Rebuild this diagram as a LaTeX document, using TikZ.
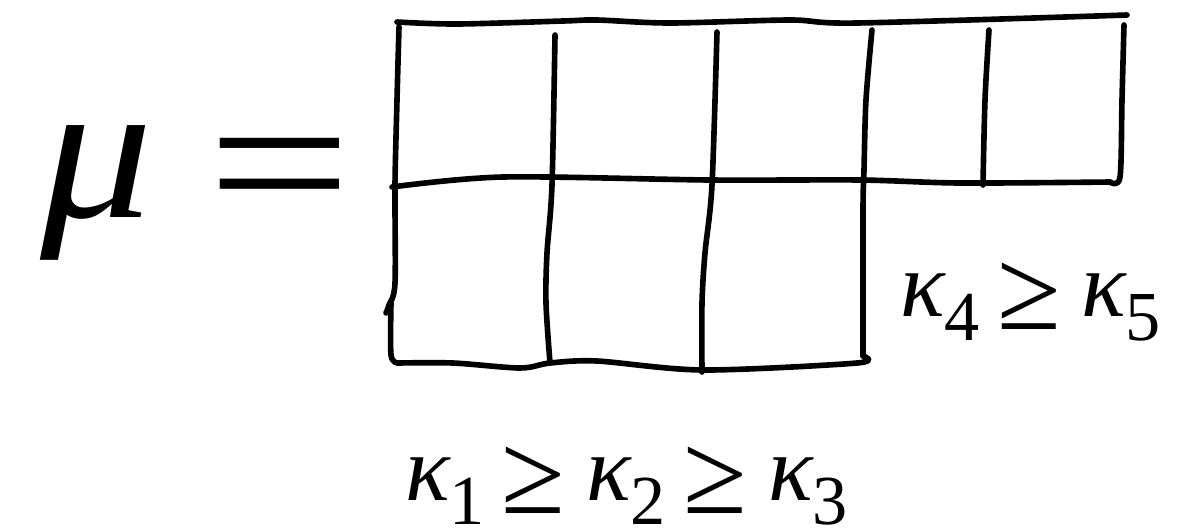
\documentclass[tikz,border=0pt]{standalone}
\usepackage{fontspec}
\usepackage{graphicx}
\setmainfont{Liberation Serif}
\usetikzlibrary{positioning}
% kappa with a lowered digit, and a large >= sign
\newcommand{\kap}[1]{\textit{κ}\hspace{-1pt}\raisebox{-14pt}{\fontsize{40}{40}\selectfont #1}}
\newcommand{\bigge}{\hspace{10pt}\raisebox{-7.4pt}{\fontsize{66}{66}\selectfont ≥}\hspace{12pt}}

\begin{document}
\begin{tikzpicture}[x=0.02cm, y=-0.02cm,
    pen/.style={line width=3.2pt, line cap=round, line join=round},
    bigtext/.style={inner sep=0pt, anchor=base west, font=\fontsize{114}{114}\selectfont},
    kaptext/.style={inner sep=0pt, anchor=base west, font=\fontsize{53}{53}\selectfont}]
  \useasboundingbox (0,0) rectangle (1178,529);

  \node[bigtext] (mu) at (40,217) {\scalebox{1.12}[1]{\textit{μ}}};
  \node[bigtext, font=\fontsize{135}{135}\selectfont] (eq) at (207,231) {\scalebox{1.08}[0.86]{=}};

  % top row
  \draw[pen] plot[smooth] coordinates {(397,22) (457,24) (563,21) (597,20) (670,23) (790,20) (857,23) (1127,15)};
  \draw[pen] plot[smooth] coordinates {(1110,182) (1120,177) (1122,100) (1124,25)};
  \draw[pen] plot[smooth] coordinates {(392,187) (503,177) (710,180) (860,180) (960,183) (1110,182)};
  \draw[pen] plot[smooth] coordinates {(989,30) (985,100) (983,185)};

  % left edge
  \draw[pen] plot[smooth] coordinates {(399,27) (397,100) (395,185) (395,283) (389,305) (386,313)};
  \draw[pen] plot[smooth] coordinates {(391,303) (391,355) (398,363)};

  % bottom edge and right edge of bottom row
  \draw[pen] plot[smooth] coordinates {(398,363) (453,363) (520,368) (550,363) (597,361) (703,370) (857,363) (863,356)};
  \draw[pen] plot[smooth] coordinates {(863,356) (863,210) (864,170) (866,100) (872,30)};

  % inner verticals
  \draw[pen] plot[smooth] coordinates {(555,35) (552,185) (547,253) (546,303) (550,363)};
  \draw[pen] plot[smooth] coordinates {(717,32) (712,185) (705,253) (702,303) (702,372)};

  \node[kaptext] (kapright) at (900,316) {\kap{4}\bigge\kap{5}};
  \node[kaptext] (kapbelow) at (405,500) {\kap{1}\bigge\kap{2}\bigge\kap{3}};
\end{tikzpicture}
\end{document}
